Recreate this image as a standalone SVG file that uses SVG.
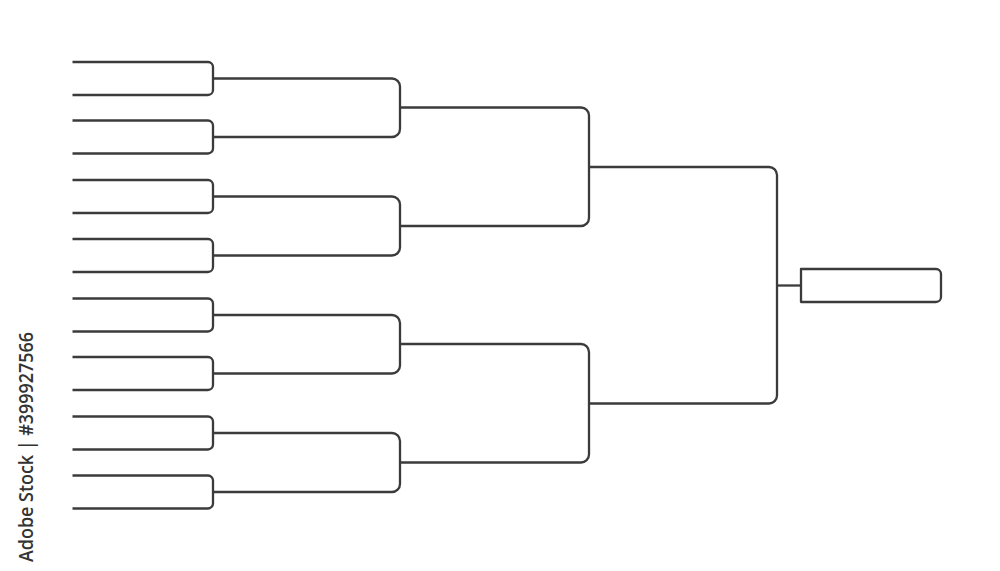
<svg xmlns="http://www.w3.org/2000/svg" width="1000" height="571" viewBox="0 0 1000 571">
<style>
.ln{fill:none;stroke:#3b3b3b;stroke-width:2.3;stroke-linejoin:round;stroke-linecap:butt}
.wm{font-family:"Open Sans","Liberation Sans",sans-serif;font-size:19px;font-weight:600;fill:#333333}
</style>
<rect width="1000" height="571" fill="#ffffff"/>
<g id="round1">
<path id="slot-pair-1" class="ln" d="M72.5,62 H208 a5,5 0 0 1 5,5 V90 a5,5 0 0 1 -5,5 H72.5"/>
<path id="slot-pair-2" class="ln" d="M72.5,120.5 H208 a5,5 0 0 1 5,5 V148.5 a5,5 0 0 1 -5,5 H72.5"/>
<path id="slot-pair-3" class="ln" d="M72.5,180 H208 a5,5 0 0 1 5,5 V208 a5,5 0 0 1 -5,5 H72.5"/>
<path id="slot-pair-4" class="ln" d="M72.5,239 H208 a5,5 0 0 1 5,5 V267 a5,5 0 0 1 -5,5 H72.5"/>
<path id="slot-pair-5" class="ln" d="M72.5,298.5 H208 a5,5 0 0 1 5,5 V326.5 a5,5 0 0 1 -5,5 H72.5"/>
<path id="slot-pair-6" class="ln" d="M72.5,357 H208 a5,5 0 0 1 5,5 V385 a5,5 0 0 1 -5,5 H72.5"/>
<path id="slot-pair-7" class="ln" d="M72.5,416.5 H208 a5,5 0 0 1 5,5 V444.5 a5,5 0 0 1 -5,5 H72.5"/>
<path id="slot-pair-8" class="ln" d="M72.5,475.5 H208 a5,5 0 0 1 5,5 V503.5 a5,5 0 0 1 -5,5 H72.5"/>
</g>
<g id="connectors">
<path class="ln" d="M213,78.5 H392 a8,8 0 0 1 8,8 V129 a8,8 0 0 1 -8,8 H213"/>
<path class="ln" d="M213,196.5 H392 a8,8 0 0 1 8,8 V247.5 a8,8 0 0 1 -8,8 H213"/>
<path class="ln" d="M213,315 H392 a8,8 0 0 1 8,8 V365.5 a8,8 0 0 1 -8,8 H213"/>
<path class="ln" d="M213,433 H392 a8,8 0 0 1 8,8 V484 a8,8 0 0 1 -8,8 H213"/>
<path class="ln" d="M400,107.5 H581 a8,8 0 0 1 8,8 V218 a8,8 0 0 1 -8,8 H400"/>
<path class="ln" d="M400,344 H581 a8,8 0 0 1 8,8 V454.5 a8,8 0 0 1 -8,8 H400"/>
<path class="ln" d="M589,167 H769 a8,8 0 0 1 8,8 V395.5 a8,8 0 0 1 -8,8 H589"/>
<path class="ln" d="M777,285.5 H801"/>
</g>
<g id="final">
<path class="ln" d="M801,269 H936 a5,5 0 0 1 5,5 V297 a5,5 0 0 1 -5,5 H801 Z"/>
</g>
<text class="wm" transform="translate(33,562) rotate(-90)" textLength="230" lengthAdjust="spacingAndGlyphs">Adobe Stock | #399927566</text>
</svg>
